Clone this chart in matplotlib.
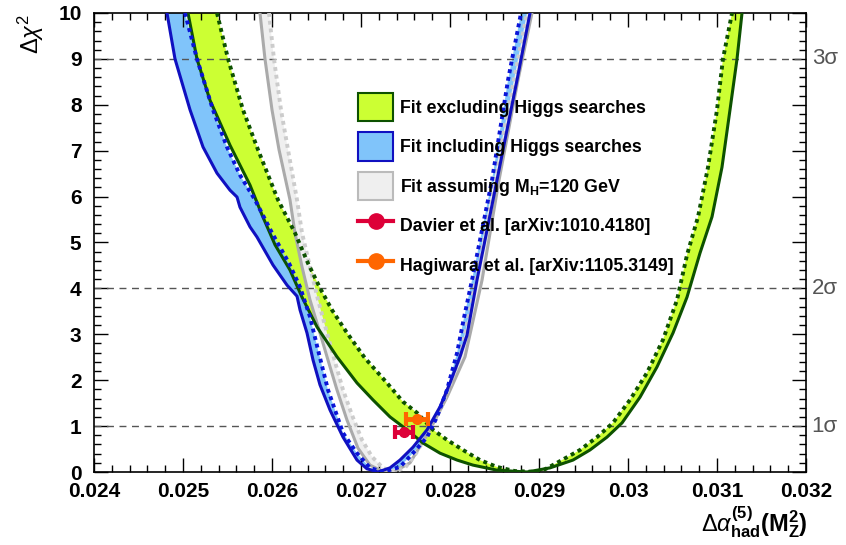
import numpy as np
import matplotlib
matplotlib.use("Agg")
import matplotlib.pyplot as plt
from matplotlib.patches import Patch
from matplotlib.lines import Line2D
from matplotlib.ticker import MultipleLocator, FuncFormatter

plt.rcParams['font.family'] = ['Liberation Sans', 'DejaVu Sans']
plt.rcParams['mathtext.fontset'] = 'custom'
plt.rcParams['mathtext.rm'] = 'Liberation Sans'
plt.rcParams['mathtext.it'] = 'Liberation Sans:italic'
plt.rcParams['mathtext.bf'] = 'Liberation Sans:bold'

# fit excluding Higgs searches (green band): solid = outer edge, dotted = inner edge
excl_solid_x = [0.025056, 0.025157, 0.025303, 0.025528, 0.025753, 0.025888, 0.026034, 0.026202,
                0.026337, 0.026506, 0.026730, 0.026955, 0.027135, 0.027326, 0.027517, 0.027697,
                0.027888, 0.028079, 0.028258, 0.028528, 0.028865, 0.029124, 0.029382, 0.029573,
                0.029764, 0.029933, 0.030135, 0.030326, 0.030506, 0.030663, 0.030809, 0.030944,
                0.031056, 0.031146, 0.031225, 0.031281]
excl_solid_y = [10.0, 9.0, 8.10, 7.12, 6.25, 5.60, 4.95, 4.40, 3.81, 3.16, 2.51, 1.94, 1.57, 1.20,
                0.92, 0.63, 0.41, 0.26, 0.15, 0.04, 0.0, 0.09, 0.26, 0.48, 0.76, 1.07, 1.63, 2.29,
                3.03, 3.81, 4.77, 5.56, 6.64, 7.89, 9.0, 10.0]
excl_dot_x = [0.025382, 0.025506, 0.025674, 0.025843, 0.026067, 0.026258, 0.026404, 0.026539,
              0.026674, 0.026843, 0.027045, 0.027292, 0.027472, 0.027629, 0.027809, 0.027966,
              0.028146, 0.028337, 0.028528, 0.028730, 0.029011, 0.029202, 0.029461, 0.029652,
              0.029831, 0.030022, 0.030213, 0.030393, 0.030551, 0.030663, 0.030787, 0.030899,
              0.031000, 0.031067, 0.031169]
excl_dot_y = [10.0, 9.0, 7.89, 7.02, 5.93, 5.21, 4.55, 4.01, 3.53, 3.03, 2.48, 1.94, 1.53, 1.29,
              0.92, 0.70, 0.48, 0.26, 0.11, 0.02, 0.0, 0.20, 0.48, 0.76, 1.07, 1.57, 2.16, 2.88,
              3.75, 4.73, 5.56, 6.64, 7.89, 9.0, 10.0]

# fit including Higgs searches (blue band)
incl_solid_x = [0.024820, 0.024910, 0.025079, 0.025225, 0.025382, 0.025528, 0.025607, 0.025640,
                0.025753, 0.025831, 0.026011, 0.026169, 0.026281, 0.026315, 0.026393, 0.026461,
                0.026539, 0.026652, 0.026798, 0.026955, 0.027067, 0.027191, 0.027326, 0.027438,
                0.027584, 0.027742, 0.027888, 0.028000, 0.028112, 0.028191, 0.028303, 0.028416,
                0.028528, 0.028640, 0.028753, 0.028899]
incl_solid_y = [10.0, 9.0, 7.89, 7.08, 6.51, 6.14, 5.99, 5.77, 5.34, 5.12, 4.51, 4.07, 3.83, 3.53,
                3.03, 2.44, 1.90, 1.35, 0.76, 0.26, 0.07, 0.0, 0.09, 0.26, 0.54, 0.92, 1.42, 1.94,
                2.51, 2.98, 4.18, 5.27, 6.36, 7.45, 8.54, 10.0]
incl_dot_x = [0.025022, 0.025157, 0.025337, 0.025494, 0.025640, 0.025809, 0.026000, 0.026191,
              0.026315, 0.026427, 0.026517, 0.026629, 0.026798, 0.026955, 0.027101, 0.027247,
              0.027438, 0.027584, 0.027742, 0.027854, 0.027966, 0.028079, 0.028157, 0.028247,
              0.028472, 0.028652, 0.028798]
incl_dot_y = [10.0, 9.0, 7.89, 7.08, 6.47, 5.93, 5.21, 4.55, 4.03, 3.38, 2.66, 1.79, 0.85, 0.41,
              0.09, 0.0, 0.11, 0.41, 0.76, 1.20, 1.79, 2.59, 3.36, 4.18, 6.36, 8.54, 10.0]

# fit assuming MH = 120 GeV (grey band)
mh120_solid_x = [0.025865, 0.025921, 0.026000, 0.026079, 0.026202, 0.026258, 0.026337, 0.026427,
                 0.026539, 0.026629, 0.026730, 0.026843, 0.026966, 0.027101, 0.027236, 0.027382,
                 0.027551, 0.027775, 0.027966, 0.028169, 0.028360, 0.028551, 0.028764, 0.028921]
mh120_solid_y = [10.0, 9.0, 7.89, 7.02, 5.93, 5.21, 4.47, 3.75, 3.03, 2.44, 1.79, 1.13, 0.52, 0.15,
                 0.02, 0.02, 0.20, 0.92, 1.63, 2.51, 4.18, 6.36, 8.54, 10.0]
mh120_dot_x = [0.025966, 0.026022, 0.026101, 0.026180, 0.026281, 0.026337, 0.026427, 0.026517,
               0.026618, 0.026708, 0.026798, 0.026899, 0.027011, 0.027124, 0.027247, 0.027360,
               0.027494, 0.027607, 0.027742, 0.027888, 0.028000, 0.028112, 0.028247, 0.028449,
               0.028674, 0.028865]
mh120_dot_y = [10.0, 9.0, 7.89, 7.02, 5.93, 5.21, 4.47, 3.75, 3.03, 2.40, 1.79, 1.24, 0.70, 0.33,
               0.09, 0.0, 0.09, 0.37, 0.81, 1.35, 1.90, 2.51, 3.75, 5.93, 8.10, 10.0]

# external determinations
davier_x, davier_y, davier_err = 0.02748, 0.87, 0.00010
hagiwara_x, hagiwara_y, hagiwara_err = 0.02763, 1.15, 0.00012

sigma_levels = [1, 4, 9]
sigma_labels = ['1σ', '2σ', '3σ']

green_fill, green_line = '#ccff33', '#0d5200'
blue_fill, blue_line, blue_dot = '#80c4fa', '#1010c0', '#0a14d8'
grey_fill, grey_line, grey_dot = '#efefef', '#aaaaaa', '#cccccc'

fig = plt.figure(figsize=(8.46, 5.45), dpi=100)
ax = fig.add_axes([94 / 846, 73 / 545, 712 / 846, 459 / 545])

def band(sx, sy, dx, dy, color):
    ax.fill(np.r_[sx, dx[::-1]], np.r_[sy, dy[::-1]], color=color, lw=0, zorder=1)

band(excl_solid_x, excl_solid_y, excl_dot_x, excl_dot_y, green_fill)
band(incl_solid_x, incl_solid_y, incl_dot_x, incl_dot_y, blue_fill)
band(mh120_solid_x, mh120_solid_y, mh120_dot_x, mh120_dot_y, grey_fill)

for lev in sigma_levels:
    ax.axhline(lev, color='#555555', lw=1, ls=(0, (5, 4)), zorder=2)

dot = (0, (1, 1))
ax.plot(mh120_solid_x, mh120_solid_y, color=grey_line, lw=2.2, zorder=3)
ax.plot(mh120_dot_x, mh120_dot_y, color=grey_dot, lw=2.8, ls=dot, zorder=3)
ax.plot(excl_solid_x, excl_solid_y, color=green_line, lw=2.2, zorder=4)
ax.plot(excl_dot_x, excl_dot_y, color=green_line, lw=2.8, ls=dot, zorder=4)
ax.plot(incl_solid_x, incl_solid_y, color=blue_line, lw=2.2, zorder=5)
ax.plot(incl_dot_x, incl_dot_y, color=blue_dot, lw=2.8, ls=dot, zorder=5)

ax.errorbar([davier_x], [davier_y], xerr=[davier_err], fmt='o', color='#dd0038', ms=7,
            elinewidth=3.5, capsize=5, capthick=3, zorder=6)
ax.errorbar([hagiwara_x], [hagiwara_y], xerr=[hagiwara_err], fmt='o', color='#ff6600', ms=7,
            elinewidth=3.5, capsize=5, capthick=3, zorder=6)

ax.set_xlim(0.024, 0.032)
ax.set_ylim(0, 10)
ax.xaxis.set_major_locator(MultipleLocator(0.001))
ax.xaxis.set_minor_locator(MultipleLocator(0.0002))
ax.yaxis.set_major_locator(MultipleLocator(1))
ax.yaxis.set_minor_locator(MultipleLocator(0.2))
ax.xaxis.set_major_formatter(FuncFormatter(lambda v, p: '%g' % round(v, 4)))
ax.tick_params(which='both', direction='in', top=True, right=True, width=1)
ax.tick_params(which='major', length=10, labelsize=15)
ax.tick_params(axis='x', which='major', pad=7)
ax.tick_params(axis='y', which='major', pad=9)
ax.tick_params(which='minor', length=5)
for lab in ax.get_xticklabels() + ax.get_yticklabels():
    lab.set_fontweight('bold')
for sp in ax.spines.values():
    sp.set_linewidth(1.2)

for lev, txt in zip(sigma_levels, sigma_labels):
    ax.text(1.008, lev, txt, transform=ax.get_yaxis_transform(), color='#555555',
            fontsize=16, va='center', ha='left')

fig.text(0.036, 0.975, r'$\Delta\chi^2$', rotation=90, ha='center', va='top', fontsize=17)
fig.text(0.955, 0.01, r'$\Delta\alpha^{\mathbf{(5)}}_{\mathbf{had}}\mathbf{(M_Z^2)}$',
         ha='right', va='bottom', fontsize=17)

handles = [
    Patch(facecolor=green_fill, edgecolor=green_line, lw=1.5),
    Patch(facecolor=blue_fill, edgecolor=blue_line, lw=1.5),
    Patch(facecolor=grey_fill, edgecolor='#bbbbbb', lw=1.5),
    Line2D([0], [0], color='#dd0038', lw=3, marker='o', ms=11),
    Line2D([0], [0], color='#ff6600', lw=3, marker='o', ms=11),
]
labels = ['Fit excluding Higgs searches', 'Fit including Higgs searches',
          r'Fit assuming M$_{\mathbf{H}}$=120 GeV', 'Davier et al. [arXiv:1010.4180]',
          'Hagiwara et al. [arXiv:1105.3149]']
leg = ax.legend(handles, labels, loc='upper left', bbox_to_anchor=(0.371, 0.826), frameon=False,
                prop={'weight': 'bold', 'size': 12.8}, handlelength=1.97, handleheight=2.05,
                labelspacing=0.65, handletextpad=0.4, borderaxespad=0, borderpad=0)
leg.set_zorder(7)

fig.savefig('out.png', dpi=100)
